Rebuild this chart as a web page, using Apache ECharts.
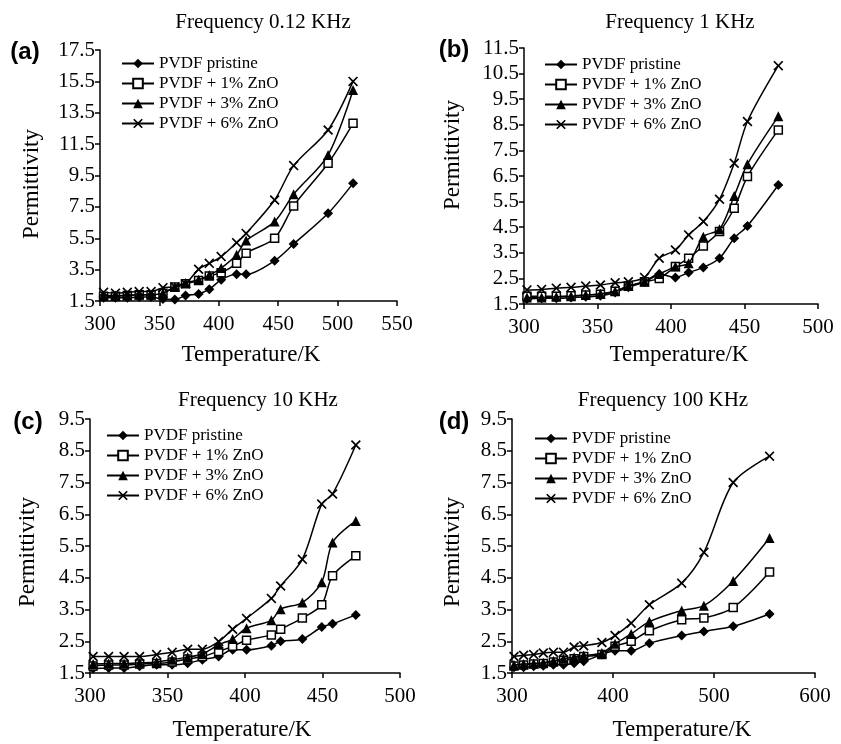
<!DOCTYPE html>
<html>
<head>
<meta charset="utf-8">
<script src="https://cdn.jsdelivr.net/npm/echarts@6/dist/echarts.min.js"></script>
<style>html,body{margin:0;padding:0;background:#fff}#c{width:841px;height:744px}</style>
</head>
<body>
<div id="c"></div>
<script>
// ---- Data ----
const seriesNames = ['PVDF pristine', 'PVDF + 1% ZnO', 'PVDF + 3% ZnO', 'PVDF + 6% ZnO'];
const panelTitles = ['Frequency 0.12 KHz', 'Frequency 1 KHz', 'Frequency 10 KHz', 'Frequency 100 KHz'];
const panelLetters = ['(a)', '(b)', '(c)', '(d)'];

// (a) 0.12 KHz
const tempA = [303, 313, 323, 333, 343, 353, 363, 372, 383, 392, 402, 415, 423, 447, 463, 492, 513];
const pristineA = [1.7, 1.7, 1.7, 1.75, 1.75, 1.62, 1.6, 1.85, 1.95, 2.25, 2.85, 3.2, 3.2, 4.07, 5.13, 7.09, 9.0];
const zno1A = [1.8, 1.8, 1.85, 1.9, 1.9, 2.0, 2.4, 2.6, 2.8, 3.1, 3.3, 3.9, 4.55, 5.5, 7.56, 10.28, 12.83];
const zno3A = [1.85, 1.85, 1.85, 1.9, 1.9, 2.0, 2.4, 2.65, 2.85, 3.15, 3.6, 4.45, 5.35, 6.56, 8.3, 10.8, 14.95];
const zno6A = [2.05, 2.0, 2.05, 2.1, 2.1, 2.35, 2.4, 2.6, 3.52, 3.9, 4.33, 5.22, 5.81, 7.94, 10.13, 12.4, 15.5];

// (b) 1 KHz
const tempB = [302, 312, 322, 332, 342, 352, 362, 371, 382, 392, 403, 412, 422, 433, 443, 452, 473];
const pristineB = [1.7, 1.72, 1.72, 1.75, 1.78, 1.82, 1.95, 2.15, 2.37, 2.67, 2.54, 2.73, 2.93, 3.29, 4.07, 4.55, 6.15];
const zno1B = [1.8, 1.8, 1.8, 1.82, 1.85, 1.88, 2.0, 2.2, 2.37, 2.5, 2.96, 3.29, 3.77, 4.33, 5.24, 6.48, 8.3];
const zno3B = [1.75, 1.75, 1.78, 1.8, 1.85, 1.9, 2.0, 2.2, 2.37, 2.67, 2.96, 3.09, 4.13, 4.42, 5.72, 6.96, 8.83];
const zno6B = [2.05, 2.07, 2.12, 2.15, 2.2, 2.24, 2.33, 2.37, 2.54, 3.29, 3.61, 4.2, 4.72, 5.59, 7.0, 8.63, 10.81];

// (c) 10 KHz
const tempC = [302, 312, 322, 332, 343, 353, 363, 372.5, 383, 392, 401, 417, 423, 437, 449.5, 456.5, 471.5];
const pristineC = [1.64, 1.66, 1.66, 1.71, 1.76, 1.76, 1.81, 1.92, 2.02, 2.23, 2.23, 2.36, 2.5, 2.57, 2.95, 3.05, 3.33];
const zno1C = [1.72, 1.75, 1.75, 1.78, 1.8, 1.85, 1.94, 2.02, 2.18, 2.34, 2.53, 2.7, 2.88, 3.23, 3.65, 4.56, 5.19];
const zno3C = [1.78, 1.8, 1.8, 1.82, 1.85, 1.92, 2.0, 2.1, 2.39, 2.57, 2.91, 3.16, 3.51, 3.72, 4.36, 5.61, 6.29];
const zno6C = [2.02, 2.02, 2.02, 2.02, 2.08, 2.15, 2.25, 2.25, 2.49, 2.88, 3.22, 3.85, 4.24, 5.08, 6.82, 7.14, 8.68];

// (d) 100 KHz
const tempD = [302, 311.5, 321.5, 331, 341, 351, 361.5, 371, 389, 402, 418, 436, 468, 490, 519, 555];
const pristineD = [1.68, 1.68, 1.71, 1.73, 1.76, 1.76, 1.81, 1.87, 2.08, 2.2, 2.2, 2.44, 2.68, 2.81, 2.97, 3.36];
const zno1D = [1.72, 1.75, 1.78, 1.8, 1.85, 1.9, 1.95, 2.02, 2.08, 2.34, 2.5, 2.83, 3.18, 3.23, 3.56, 4.68];
const zno3D = [1.75, 1.78, 1.8, 1.82, 1.88, 1.95, 2.0, 2.05, 2.13, 2.42, 2.73, 3.12, 3.47, 3.62, 4.4, 5.75];
const zno6D = [2.02, 2.06, 2.08, 2.13, 2.15, 2.15, 2.32, 2.36, 2.46, 2.68, 3.07, 3.65, 4.33, 5.3, 7.5, 8.33];

// Axis ranges
const xMin = [300, 300, 300, 300];
const xMax = [550, 500, 500, 600];
const xStep = [50, 50, 50, 100];
const yMin = [1.5, 1.5, 1.5, 1.5];
const yMax = [17.5, 11.5, 9.5, 9.5];
const yStep = [2, 1, 1, 1];

const panels = [
  [tempA, [pristineA, zno1A, zno3A, zno6A]],
  [tempB, [pristineB, zno1B, zno3B, zno6B]],
  [tempC, [pristineC, zno1C, zno3C, zno6C]],
  [tempD, [pristineD, zno1D, zno3D, zno6D]]
];

// ---- Layout / style ----
const SERIF = '"Liberation Serif", "Times New Roman", serif';
const grids = [
  {left: 100, top: 50, width: 297, height: 251},
  {left: 524, top: 48, width: 294, height: 256},
  {left: 90, top: 419, width: 310, height: 254},
  {left: 512, top: 419, width: 303, height: 254}
];
const legendPos = [
  {left: 116, top: 50},
  {left: 539, top: 51},
  {left: 101, top: 422},
  {left: 529, top: 425}
];
const titlePos = [[263, 22], [680, 22], [258, 400], [663, 400]];
const letterPos = [[25, 52], [454, 50], [28, 422], [454, 422]];
const yNamePos = [[32, 184], [453, 155], [28, 552], [453, 552]];
const xNamePos = [[251, 355], [679, 355], [242, 730], [682, 730]];

const xPath = 'path://M0,1.2 L1.2,0 L5,3.8 L8.8,0 L10,1.2 L6.2,5 L10,8.8 L8.8,10 L5,6.2 L1.2,10 L0,8.8 L3.8,5 Z';
const symStyles = [
  {symbol: 'diamond', symbolSize: 10, itemStyle: {color: '#000', borderColor: '#000', borderWidth: 0}},
  {symbol: 'rect', symbolSize: 8, itemStyle: {color: '#fff', borderColor: '#000', borderWidth: 1.5}},
  {symbol: 'triangle', symbolSize: 10, itemStyle: {color: '#000', borderColor: '#000', borderWidth: 0}},
  {symbol: xPath, symbolSize: 10, itemStyle: {color: '#000', borderColor: '#000', borderWidth: 0}}
];

const axisLine = {show: true, onZero: false, lineStyle: {color: '#000', width: 1.5}};
const axisTick = {show: true, inside: false, length: 5, lineStyle: {color: '#000', width: 1.5}};

const xAxis = [], yAxis = [], series = [], legend = [], graphic = [];
for (let i = 0; i < 4; i++) {
  xAxis.push({
    type: 'value', gridIndex: i, min: xMin[i], max: xMax[i], interval: xStep[i],
    axisLine, axisTick, splitLine: {show: false},
    axisLabel: {color: '#000', fontFamily: SERIF, fontSize: 21, margin: 13}
  });
  yAxis.push({
    type: 'value', gridIndex: i, min: yMin[i], max: yMax[i], interval: yStep[i],
    axisLine, axisTick, splitLine: {show: false},
    axisLabel: {color: '#000', fontFamily: SERIF, fontSize: 21, margin: 5,
      formatter: v => v.toFixed(1)}
  });
  const [temps, vals] = panels[i];
  vals.forEach((arr, k) => {
    series.push(Object.assign({
      name: seriesNames[k], type: 'line', xAxisIndex: i, yAxisIndex: i,
      smooth: 0.3, showSymbol: true, silent: true,
      lineStyle: {color: '#000', width: 1.5},
      data: temps.map((t, j) => [t, arr[j]]),
      z: 2 + k
    }, symStyles[k]));
  });
  legend.push({
    data: seriesNames, orient: 'vertical', left: legendPos[i].left, top: legendPos[i].top,
    itemWidth: 32, itemHeight: 12, itemGap: 3, selectedMode: false,
    textStyle: {color: '#000', fontFamily: SERIF, fontSize: 17}
  });
  graphic.push({type: 'text', x: titlePos[i][0], y: titlePos[i][1],
    style: {text: panelTitles[i], font: '21px ' + SERIF, fill: '#000', align: 'center', verticalAlign: 'middle'}});
  graphic.push({type: 'text', x: letterPos[i][0], y: letterPos[i][1],
    style: {text: panelLetters[i], font: 'bold 24px "Liberation Sans", Arial, sans-serif', fill: '#000', align: 'center', verticalAlign: 'middle'}});
  graphic.push({type: 'text', x: yNamePos[i][0], y: yNamePos[i][1], rotation: Math.PI / 2,
    style: {text: 'Permittivity', font: '23px ' + SERIF, fill: '#000', align: 'center', verticalAlign: 'middle'}});
  graphic.push({type: 'text', x: xNamePos[i][0], y: xNamePos[i][1],
    style: {text: 'Temperature/K', font: '23px ' + SERIF, fill: '#000', align: 'center', verticalAlign: 'middle'}});
}

const chart = echarts.init(document.getElementById('c'), null, {renderer: 'canvas'});
chart.setOption({
  animation: false,
  backgroundColor: '#fff',
  grid: grids,
  xAxis, yAxis, series, legend, graphic
});
</script>
</body>
</html>
